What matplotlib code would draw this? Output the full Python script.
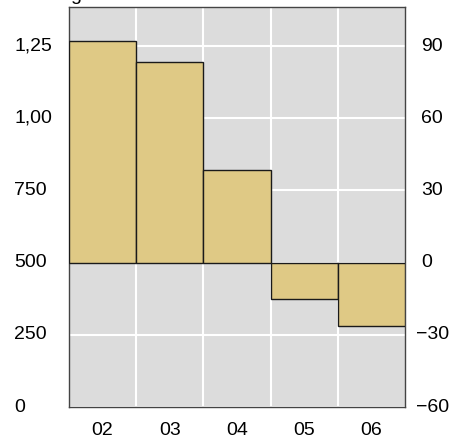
import matplotlib
matplotlib.use("Agg")
import matplotlib.pyplot as plt
from matplotlib.transforms import Bbox, blended_transform_factory, offset_copy

plt.rcParams['font.family'] = ['Liberation Sans', 'DejaVu Sans']

# datos
meses = ["02", "03", "04", "05", "06"]
cambio = [92.0, 83.5, 38.6, -15.0, -26.2]
ticks_der = [-60, -30, 0, 30, 60, 90]
ticks_izq = [0, 250, 500, 750, 1000, 1250]

def a_der(v):
    return (v - 500) * 30 / 250

fs = 14
fig = plt.figure(figsize=(4.58, 4.42), dpi=100)
ax = fig.add_axes([69 / 458, 35 / 442, 336 / 458, 400 / 442])
ax.set_facecolor("#dcdcdc")

x = list(range(len(meses)))
ax.bar(x, cambio, width=1.0, color="#dfc985", edgecolor="#1a1a1a", linewidth=1, zorder=3)

ax.set_xlim(-0.5, len(meses) - 0.5)
ax.set_ylim(-60, 106.25)

ax.set_xticks(x)
ax.set_xticklabels(meses)
ax.set_xticks([i + 0.5 for i in x[:-1]], minor=True)
ax.tick_params(axis="x", which="both", length=0, pad=11, labelsize=fs)
ax.grid(True, which="minor", axis="x", color="white", linewidth=1.5, zorder=1)

ax.set_yticks(ticks_der)
ax.set_yticklabels([])
ax.tick_params(axis="y", length=0)
ax.grid(True, which="major", axis="y", color="white", linewidth=1.5, zorder=1)

for s in ax.spines.values():
    s.set_color("#444444")
    s.set_linewidth(1)

# etiquetas de la derecha (cambio)
trans = blended_transform_factory(ax.transAxes, ax.transData)
for t in ticks_der:
    dx = 16 if t >= 0 else 11
    etiqueta = str(t).replace("-", "\u2212")
    fig.text(1, t, etiqueta, transform=offset_copy(trans, fig, x=dx, y=0, units="dots"),
             ha="left", va="center", fontsize=fs)

# etiquetas de la izquierda (nivel), cortadas como en el original
for v in ticks_izq:
    txt = fig.text(0, a_der(v), "{:,}".format(v),
                   transform=offset_copy(trans, fig, x=-55, y=0, units="dots"),
                   ha="left", va="center", fontsize=fs)
    txt.set_clip_on(True)
    txt.set_clip_box(Bbox.from_extents(0, 0, 52, 442))

# titulo cortado arriba
fig.text(70 / 458, 1.0, "g", fontsize=fs, va="baseline", ha="left")

fig.savefig("out.png", dpi=100)
